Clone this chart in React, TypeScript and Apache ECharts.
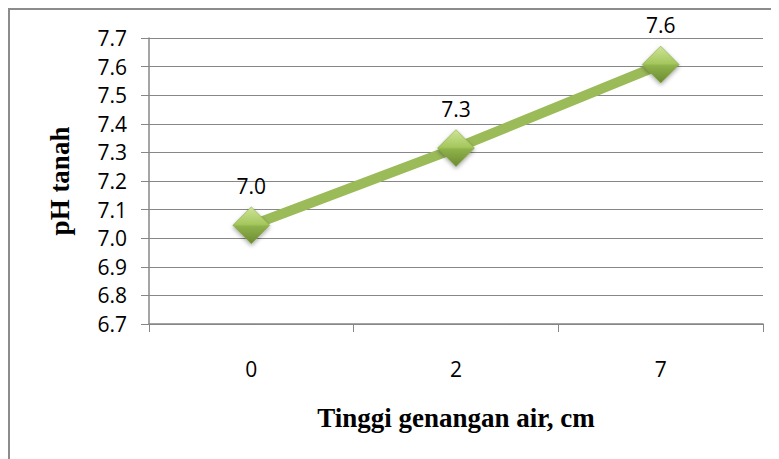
import React, { useEffect, useRef } from "react";
import * as echarts from "echarts";

// Water depth categories (cm) and measured soil pH
const depthCategories = ["0", "2", "7"];
const soilPh = [7.045, 7.315, 7.607];

// pH axis range
const phMin = 6.7;
const phMax = 7.7;
const phStep = 0.1;

const xTitle = "Tinggi genangan air, cm";
const yTitle = "pH tanah";

const W = 771;
const H = 451;

export default function App() {
  const ref = useRef<HTMLDivElement>(null);

  useEffect(() => {
    if (!ref.current) return;
    const chart = echarts.init(ref.current, undefined, { renderer: "svg" });

    const gray = "#878787";
    const tickFont = "'Open Sans', 'Noto Sans', sans-serif";
    const titleFont = "'Liberation Serif', 'DejaVu Serif', serif";

    const diamondFill = new echarts.graphic.LinearGradient(0, 0, 0, 1, [
      { offset: 0, color: "#cfe497" },
      { offset: 0.47, color: "#a5c75e" },
      { offset: 0.53, color: "#8fb24b" },
      { offset: 1, color: "#6b8b31" },
    ]);

    chart.setOption({
      animation: false,
      backgroundColor: "#ffffff",
      grid: { left: 141, right: 16, top: 30, bottom: 135, containLabel: false },
      graphic: [
        {
          type: "polyline",
          shape: { points: [[1, H], [1, 1], [W, 1]] },
          style: { stroke: "#8c8c8c", lineWidth: 2, fill: "none" },
          silent: true,
        },
      ],
      xAxis: {
        type: "category",
        data: depthCategories,
        boundaryGap: true,
        name: xTitle,
        nameLocation: "middle",
        nameGap: 80,
        nameTextStyle: {
          fontFamily: titleFont,
          fontWeight: "bold",
          fontSize: 27,
          color: "#000",
        },
        axisLine: { show: true, lineStyle: { color: gray, width: 1.5 } },
        axisTick: { show: true, length: 8, lineStyle: { color: gray, width: 1 } },
        axisLabel: {
          margin: 34,
          fontFamily: tickFont,
          fontSize: 21,
          color: "#000",
        },
        splitLine: { show: false },
      },
      yAxis: {
        type: "value",
        min: phMin,
        max: phMax,
        interval: phStep,
        name: yTitle,
        nameLocation: "middle",
        nameGap: 76,
        nameRotate: 90,
        nameTextStyle: {
          fontFamily: titleFont,
          fontWeight: "bold",
          fontSize: 27,
          color: "#000",
        },
        axisLine: { show: true, lineStyle: { color: gray, width: 1.5 } },
        axisTick: { show: true, length: 8, lineStyle: { color: gray, width: 1 } },
        axisLabel: {
          margin: 22,
          fontFamily: tickFont,
          fontSize: 21,
          color: "#000",
          formatter: (v: number) => v.toFixed(1),
        },
        splitLine: { show: true, lineStyle: { color: gray, width: 1 } },
      },
      series: [
        {
          type: "line",
          data: soilPh,
          symbol: "diamond",
          symbolSize: 37,
          lineStyle: { color: "#9bbb59", width: 10 },
          itemStyle: {
            color: diamondFill,
            borderColor: "#7f9f3f",
            borderWidth: 0.5,
            shadowBlur: 4,
            shadowOffsetY: 2,
            shadowColor: "rgba(0,0,0,0.35)",
          },
          label: {
            show: true,
            position: "top",
            distance: 10,
            fontFamily: tickFont,
            fontSize: 21,
            color: "#000",
            formatter: (p: any) => Number(p.value).toFixed(1),
          },
          z: 3,
        },
      ],
    });

    return () => chart.dispose();
  }, []);

  return <div ref={ref} style={{ width: W, height: H }} />;
}
